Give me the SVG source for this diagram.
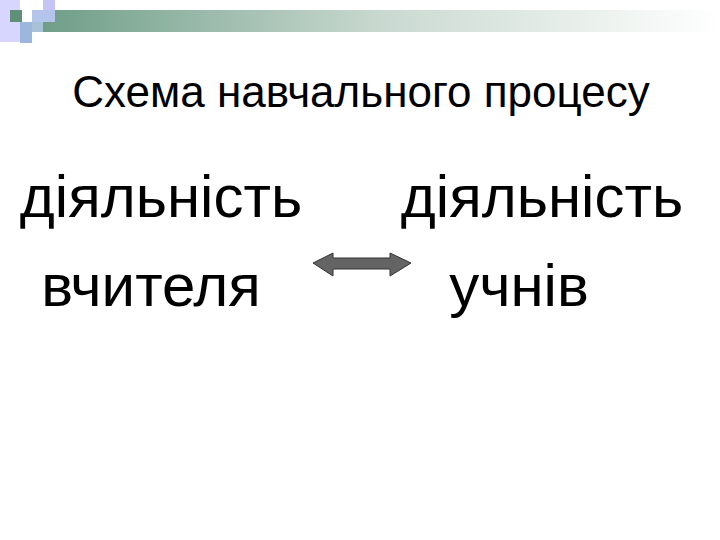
<svg xmlns="http://www.w3.org/2000/svg" width="720" height="540" viewBox="0 0 720 540">
<defs>
<linearGradient id="bar" x1="0" y1="0" x2="1" y2="0">
<stop offset="0" stop-color="#6f9e88"/>
<stop offset="0.5" stop-color="#c9d9d0"/>
<stop offset="1" stop-color="#ffffff"/>
</linearGradient>
<style>
text{font-family:"Liberation Sans",Arial,sans-serif;fill:#000}
.t{font-size:44px}
.b{font-size:60px}
</style>
</defs>
<rect width="720" height="540" fill="#fff"/>
<g id="decor">
<rect x="43" y="10" width="677" height="22" fill="url(#bar)"/>
<rect x="0" y="0" width="20" height="42" fill="#d6d6ff"/>
<rect x="10" y="10" width="12" height="12" fill="#5f8f79"/>
<rect x="43" y="0" width="12" height="10" fill="#c4c4f5"/>
<rect x="32" y="10" width="23" height="12" fill="#b4c4ea"/>
<rect x="20" y="22" width="12" height="21" fill="#9db6dc"/>
<rect x="32" y="22" width="11" height="10" fill="#a8c2d8"/>
</g>
<g id="title"><text class="t" x="361" y="107" text-anchor="middle">Схема навчального процесу</text></g>
<g id="teacher"><text class="b" x="161" y="217" text-anchor="middle">діяльність</text><text class="b" x="151" y="306" text-anchor="middle">вчителя</text></g>
<g id="students"><text class="b" x="542" y="217" text-anchor="middle">діяльність</text><text class="b" x="519" y="306" text-anchor="middle">учнів</text></g>
<g id="connectors">
<path d="M313,263 L333,253 L333,258 L390,258 L390,253 L411,263 L390,276 L390,269 L333,269 L333,276 Z" fill="#646464" stroke="#333" stroke-width="1"/>
</g>
</svg>
